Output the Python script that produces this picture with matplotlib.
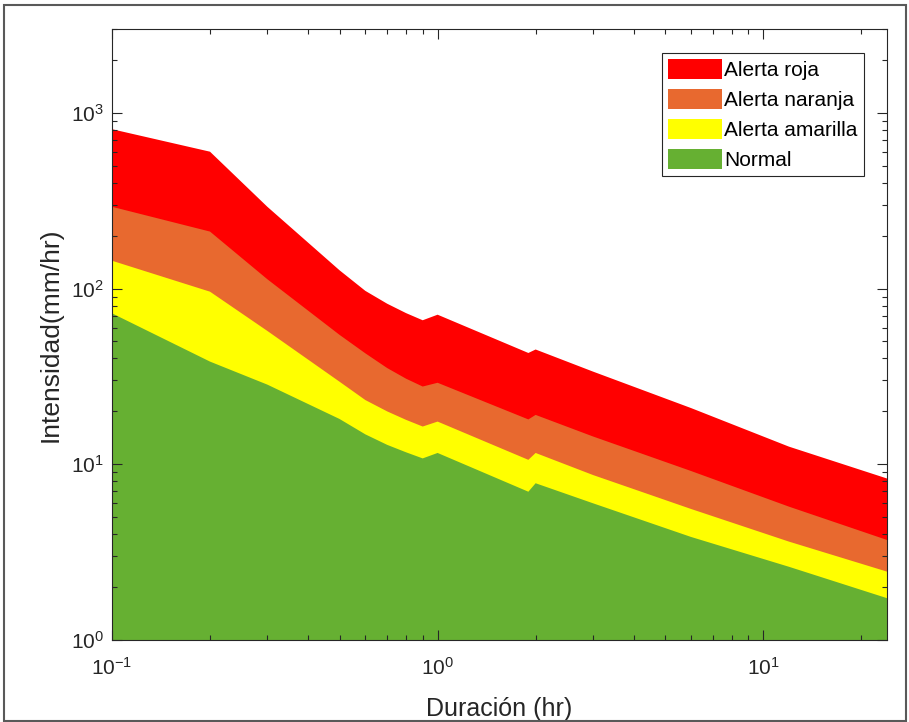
import numpy as np
import matplotlib.pyplot as plt
from matplotlib.patches import Rectangle

plt.rcParams['font.family'] = ['Liberation Sans', 'DejaVu Sans']
plt.rcParams['mathtext.fontset'] = 'custom'
plt.rcParams['mathtext.rm'] = 'Liberation Sans'

# duration (hr) and upper limit of each alert band (mm/hr)
duracion = [0.1, 0.2, 0.3, 0.5, 0.6, 0.7, 0.8, 0.9, 1.0, 1.9, 2.0, 3.0, 6.0, 12.0, 24.0]
roja     = [807, 601, 292, 127, 97, 82, 72.5, 66, 71, 43, 45, 33.7, 20.9, 12.6, 8.3]
naranja  = [292, 211, 113, 54.5, 42.8, 35.3, 30.7, 27.7, 29.1, 18.0, 19.1, 14.4, 9.16, 5.74, 3.71]
amarilla = [144, 96, 57.4, 29.5, 23.2, 20.0, 17.9, 16.4, 17.5, 10.6, 11.6, 8.69, 5.57, 3.63, 2.45]
normal   = [72.3, 38.4, 28.4, 18.1, 14.8, 12.9, 11.7, 10.8, 11.6, 6.98, 7.8, 6.0, 3.86, 2.61, 1.73]

etiquetas = ['Alerta roja', 'Alerta naranja', 'Alerta amarilla', 'Normal']
colores = ['#ff0000', '#e8692f', '#ffff00', '#66b032']

fig = plt.figure(figsize=(9.09, 7.22), dpi=100)
ax = fig.add_axes([112/909, 82/722, 775/909, 611/722])

# each band drawn from the floor up, later ones cover the lower part
for serie, lab, col in zip([roja, naranja, amarilla, normal], etiquetas, colores):
    ax.fill_between(duracion, 0.5, serie, facecolor=col, edgecolor='none',
                    lw=0, label=lab)

ax.set_xscale('log')
ax.set_yscale('log')
ax.set_xlim(0.1, 24)
ax.set_ylim(1, 3000)

ax.set_xlabel('Duración (hr)', fontsize=18, color='0.15', labelpad=13)
ax.set_ylabel('Intensidad(mm/hr)', fontsize=19, color='0.15', labelpad=6)

ax.tick_params(which='both', direction='in', top=True, right=True,
               colors='0.15', labelsize=15, width=0.8)
ax.tick_params(which='major', length=7)
ax.tick_params(axis='x', which='major', pad=12)
ax.tick_params(axis='y', which='major', pad=6)
ax.tick_params(which='minor', length=3.5)
for s in ax.spines.values():
    s.set_color('0.15')
    s.set_linewidth(0.8)

leg = ax.legend(loc='upper right', bbox_to_anchor=(0.970, 0.961),
                borderaxespad=0, fontsize=15, fancybox=False,
                edgecolor='0.15', framealpha=1, handlelength=2.6,
                handleheight=1.1, handletextpad=0.1, labelspacing=0.42,
                borderpad=0.3)
leg.get_frame().set_linewidth(0.8)

# frame around the whole picture
fig.patches.append(Rectangle((4/909, 1/722), 902/909, 716/722,
                             transform=fig.transFigure, fill=False,
                             edgecolor='0.35', lw=1.5))

fig.savefig('out.png', dpi=100)
